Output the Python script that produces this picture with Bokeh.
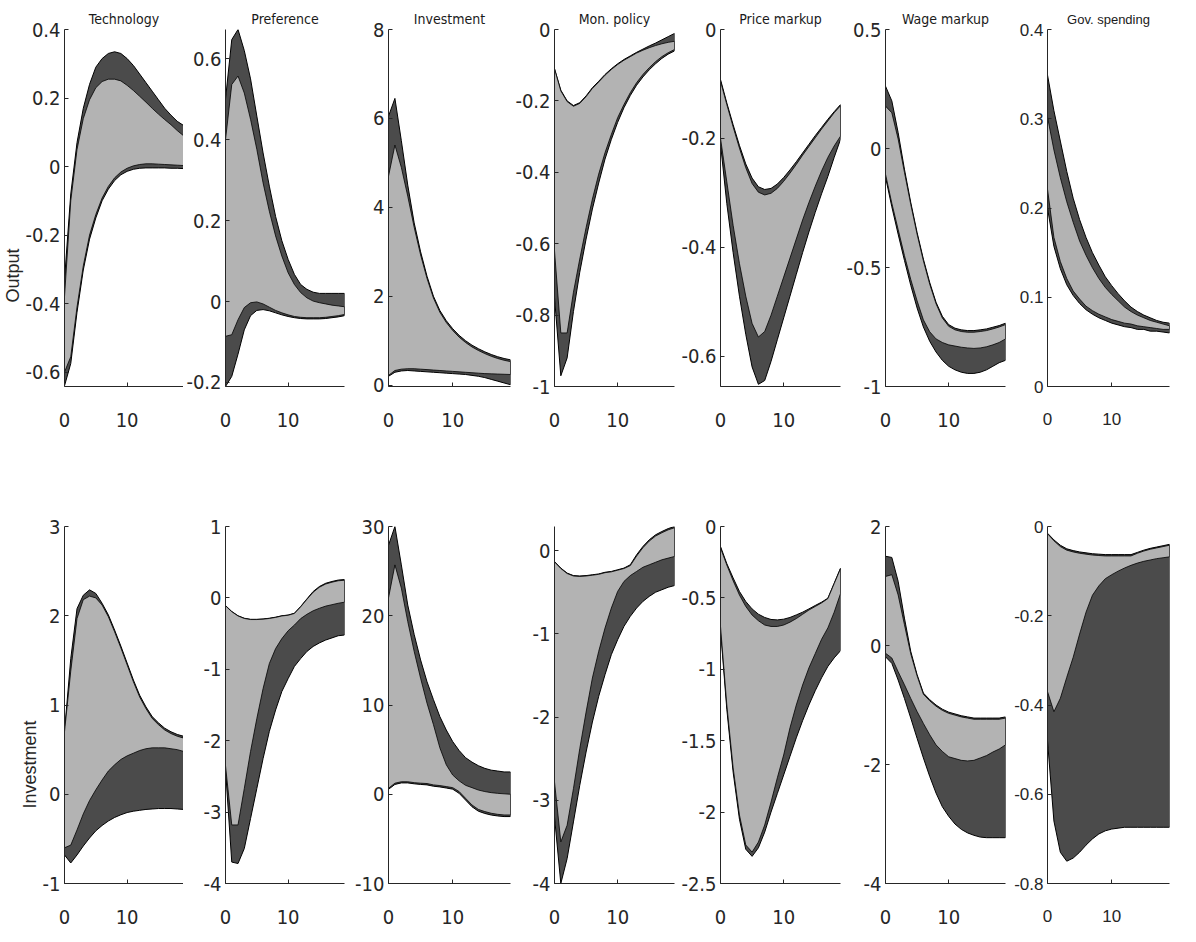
from bokeh.plotting import figure
from bokeh.layouts import gridplot
from bokeh.models import Range1d, FixedTicker, PrintfTickFormatter, Title
from bokeh.embed import file_html
from bokeh.resources import INLINE

# ---------------- data ----------------
x = list(range(20))

shocks = ["Technology", "Preference", "Investment", "Mon. policy",
          "Price markup", "Wage markup", "Gov. spending"]
variables = ["Output", "Investment"]

# Output responses
to_dark_hi = [-0.33, -0.08, 0.07, 0.17, 0.24, 0.29, 0.315, 0.33, 0.335, 0.33, 0.315, 0.295, 0.27, 0.245, 0.22, 0.195, 0.17, 0.15, 0.132, 0.12]
to_light_hi = [-0.38, -0.1, 0.05, 0.14, 0.195, 0.23, 0.248, 0.255, 0.255, 0.25, 0.237, 0.222, 0.205, 0.188, 0.17, 0.153, 0.137, 0.122, 0.105, 0.09]
to_light_lo = [-0.6, -0.555, -0.41, -0.29, -0.2, -0.14, -0.092, -0.058, -0.033, -0.016, -0.005, 0.002, 0.006, 0.008, 0.008, 0.007, 0.006, 0.005, 0.004, 0.003]
to_dark_lo = [-0.64, -0.575, -0.425, -0.302, -0.212, -0.15, -0.1, -0.066, -0.041, -0.024, -0.014, -0.008, -0.005, -0.004, -0.004, -0.004, -0.004, -0.005, -0.005, -0.006]

po_dark_hi = [0.5, 0.647, 0.672, 0.62, 0.55, 0.458, 0.367, 0.285, 0.21, 0.15, 0.104, 0.067, 0.042, 0.03, 0.023, 0.02, 0.02, 0.02, 0.02, 0.02]
po_light_hi = [0.4, 0.536, 0.557, 0.515, 0.45, 0.376, 0.293, 0.223, 0.162, 0.112, 0.071, 0.042, 0.022, 0.009, 0.001, -0.003, -0.006, -0.009, -0.011, -0.013]
po_light_lo = [-0.086, -0.082, -0.045, -0.015, -0.003, -0.001, -0.006, -0.014, -0.022, -0.028, -0.033, -0.037, -0.039, -0.04, -0.04, -0.04, -0.039, -0.037, -0.035, -0.032]
po_dark_lo = [-0.21, -0.185, -0.13, -0.07, -0.035, -0.022, -0.02, -0.023, -0.028, -0.033, -0.037, -0.04, -0.042, -0.043, -0.043, -0.043, -0.042, -0.04, -0.038, -0.035]

io_dark_hi = [6.05, 6.45, 5.5, 4.5, 3.65, 3.0, 2.45, 2.0, 1.68, 1.45, 1.27, 1.12, 1.0, 0.9, 0.82, 0.75, 0.69, 0.64, 0.6, 0.57]
io_light_hi = [4.7, 5.4, 4.9, 4.25, 3.55, 2.93, 2.4, 1.96, 1.64, 1.41, 1.23, 1.08, 0.96, 0.86, 0.78, 0.71, 0.65, 0.6, 0.56, 0.53]
io_light_lo = [0.22, 0.33, 0.36, 0.37, 0.37, 0.36, 0.35, 0.34, 0.33, 0.32, 0.31, 0.3, 0.29, 0.28, 0.27, 0.26, 0.255, 0.25, 0.245, 0.24]
io_dark_lo = [0.2, 0.29, 0.32, 0.33, 0.32, 0.31, 0.3, 0.29, 0.28, 0.27, 0.26, 0.25, 0.24, 0.22, 0.2, 0.17, 0.13, 0.09, 0.05, 0.01]

mo_dark_hi = [-0.11, -0.17, -0.2, -0.213, -0.205, -0.186, -0.163, -0.145, -0.126, -0.11, -0.096, -0.084, -0.074, -0.064, -0.055, -0.046, -0.038, -0.029, -0.02, -0.011]
mo_light_hi = [-0.11, -0.172, -0.202, -0.215, -0.207, -0.188, -0.165, -0.147, -0.128, -0.112, -0.098, -0.086, -0.076, -0.066, -0.058, -0.051, -0.045, -0.04, -0.036, -0.033]
mo_light_lo = [-0.62, -0.85, -0.85, -0.736, -0.643, -0.555, -0.475, -0.405, -0.345, -0.294, -0.247, -0.21, -0.177, -0.149, -0.126, -0.107, -0.09, -0.076, -0.065, -0.056]
mo_dark_lo = [-0.75, -0.97, -0.92, -0.79, -0.68, -0.587, -0.503, -0.43, -0.363, -0.308, -0.26, -0.219, -0.185, -0.156, -0.133, -0.113, -0.096, -0.081, -0.069, -0.06]

pmo_dark_hi = [-0.092, -0.135, -0.175, -0.213, -0.247, -0.273, -0.289, -0.294, -0.292, -0.284, -0.272, -0.258, -0.243, -0.227, -0.211, -0.195, -0.18, -0.165, -0.151, -0.138]
pmo_light_hi = [-0.095, -0.138, -0.179, -0.218, -0.254, -0.283, -0.299, -0.304, -0.301, -0.292, -0.279, -0.264, -0.248, -0.231, -0.215, -0.199, -0.183, -0.168, -0.153, -0.14]
pmo_light_lo = [-0.2, -0.28, -0.36, -0.43, -0.49, -0.54, -0.565, -0.555, -0.525, -0.49, -0.455, -0.42, -0.385, -0.35, -0.318, -0.288, -0.26, -0.235, -0.214, -0.196]
pmo_dark_lo = [-0.21, -0.32, -0.41, -0.49, -0.56, -0.62, -0.652, -0.645, -0.61, -0.57, -0.53, -0.49, -0.45, -0.41, -0.372, -0.336, -0.302, -0.27, -0.235, -0.202]

wo_dark_hi = [0.262, 0.2, 0.067, -0.087, -0.227, -0.353, -0.465, -0.563, -0.646, -0.705, -0.74, -0.755, -0.762, -0.765, -0.765, -0.762, -0.758, -0.751, -0.744, -0.734]
wo_light_hi = [0.178, 0.15, 0.04, -0.1, -0.235, -0.36, -0.472, -0.57, -0.652, -0.712, -0.747, -0.762, -0.769, -0.772, -0.772, -0.769, -0.765, -0.758, -0.75, -0.74]
wo_light_lo = [-0.108, -0.23, -0.34, -0.45, -0.55, -0.64, -0.72, -0.77, -0.8, -0.815, -0.825, -0.83, -0.835, -0.838, -0.84, -0.838, -0.833, -0.825, -0.815, -0.8]
wo_dark_lo = [-0.12, -0.245, -0.36, -0.47, -0.575, -0.67, -0.75, -0.81, -0.855, -0.89, -0.915, -0.93, -0.94, -0.945, -0.945, -0.94, -0.93, -0.915, -0.9, -0.89]

go_dark_hi = [0.349, 0.309, 0.275, 0.241, 0.211, 0.187, 0.167, 0.15, 0.136, 0.123, 0.113, 0.104, 0.096, 0.089, 0.084, 0.08, 0.077, 0.074, 0.072, 0.071]
go_light_hi = [0.302, 0.265, 0.234, 0.207, 0.184, 0.163, 0.147, 0.133, 0.121, 0.111, 0.103, 0.096, 0.089, 0.084, 0.08, 0.077, 0.074, 0.072, 0.07, 0.068]
go_light_lo = [0.221, 0.167, 0.14, 0.121, 0.107, 0.098, 0.09, 0.085, 0.081, 0.078, 0.075, 0.073, 0.071, 0.07, 0.068, 0.067, 0.066, 0.065, 0.064, 0.064]
go_dark_lo = [0.2, 0.157, 0.132, 0.114, 0.102, 0.093, 0.086, 0.081, 0.077, 0.074, 0.071, 0.069, 0.067, 0.066, 0.064, 0.064, 0.062, 0.062, 0.061, 0.06]

# Investment responses
ti_dark_hi = [0.7, 1.52, 2.08, 2.23, 2.29, 2.25, 2.14, 2.01, 1.84, 1.66, 1.47, 1.28, 1.11, 0.98, 0.87, 0.8, 0.74, 0.7, 0.67, 0.65]
ti_light_hi = [0.7, 1.38, 1.97, 2.18, 2.22, 2.2, 2.12, 1.99, 1.82, 1.64, 1.45, 1.26, 1.09, 0.96, 0.85, 0.78, 0.72, 0.68, 0.65, 0.63]
ti_light_lo = [-0.6, -0.57, -0.4, -0.22, -0.07, 0.05, 0.16, 0.26, 0.33, 0.39, 0.43, 0.46, 0.49, 0.51, 0.52, 0.52, 0.52, 0.51, 0.5, 0.48]
ti_dark_lo = [-0.68, -0.77, -0.68, -0.58, -0.49, -0.41, -0.35, -0.3, -0.26, -0.23, -0.205, -0.19, -0.18, -0.17, -0.165, -0.16, -0.16, -0.16, -0.165, -0.17]

pi_dark_hi = [-0.107, -0.19, -0.25, -0.285, -0.3, -0.3, -0.295, -0.285, -0.27, -0.25, -0.24, -0.215, -0.12, -0.014, 0.09, 0.16, 0.205, 0.23, 0.25, 0.257]
pi_light_hi = [-0.11, -0.193, -0.253, -0.288, -0.303, -0.303, -0.298, -0.288, -0.273, -0.253, -0.243, -0.218, -0.125, -0.02, 0.08, 0.15, 0.195, 0.22, 0.24, 0.247]
pi_light_lo = [-2.35, -3.18, -3.18, -2.67, -2.15, -1.69, -1.27, -0.92, -0.71, -0.57, -0.46, -0.38, -0.29, -0.23, -0.18, -0.145, -0.115, -0.095, -0.075, -0.06]
pi_dark_lo = [-2.4, -3.7, -3.72, -3.51, -3.09, -2.67, -2.25, -1.87, -1.57, -1.31, -1.13, -0.96, -0.85, -0.75, -0.68, -0.63, -0.59, -0.56, -0.53, -0.52]

ii_dark_hi = [27.9, 30.0, 25.7, 21.2, 17.9, 15.05, 12.6, 10.6, 8.7, 7.2, 5.9, 4.9, 4.1, 3.6, 3.2, 2.9, 2.7, 2.6, 2.5, 2.5]
ii_light_hi = [22.0, 25.7, 23.1, 19.35, 16.0, 13.0, 10.2, 7.8, 5.2, 3.3, 2.15, 1.5, 1.0, 0.74, 0.47, 0.3, 0.18, 0.1, 0.05, 0.0]
ii_light_lo = [0.67, 1.24, 1.4, 1.4, 1.3, 1.24, 1.2, 1.05, 0.97, 0.86, 0.74, 0.3, -0.45, -1.2, -1.7, -1.94, -2.13, -2.25, -2.32, -2.32]
ii_dark_lo = [0.55, 1.1, 1.27, 1.27, 1.17, 1.1, 1.05, 0.9, 0.82, 0.7, 0.57, 0.1, -0.65, -1.4, -1.9, -2.15, -2.33, -2.43, -2.5, -2.5]

mi_dark_hi = [-0.13, -0.21, -0.27, -0.3, -0.305, -0.3, -0.29, -0.28, -0.26, -0.25, -0.23, -0.21, -0.17, -0.05, 0.05, 0.13, 0.19, 0.23, 0.265, 0.29]
mi_light_hi = [-0.135, -0.215, -0.275, -0.305, -0.31, -0.305, -0.295, -0.285, -0.265, -0.255, -0.235, -0.215, -0.18, -0.065, 0.035, 0.115, 0.175, 0.215, 0.25, 0.275]
mi_light_lo = [-2.78, -3.5, -3.3, -2.86, -2.38, -1.94, -1.53, -1.21, -0.93, -0.69, -0.49, -0.37, -0.3, -0.25, -0.2, -0.17, -0.14, -0.11, -0.09, -0.07]
mi_dark_lo = [-3.2, -4.0, -3.7, -3.26, -2.82, -2.42, -2.06, -1.75, -1.49, -1.25, -1.07, -0.91, -0.79, -0.69, -0.61, -0.55, -0.5, -0.47, -0.44, -0.42]

pmi_dark_hi = [-0.14, -0.26, -0.36, -0.455, -0.525, -0.577, -0.614, -0.637, -0.651, -0.654, -0.649, -0.637, -0.619, -0.6, -0.577, -0.553, -0.53, -0.502, -0.397, -0.292]
pmi_light_hi = [-0.15, -0.27, -0.38, -0.48, -0.56, -0.62, -0.66, -0.69, -0.7, -0.7, -0.69, -0.67, -0.645, -0.615, -0.585, -0.56, -0.535, -0.505, -0.4, -0.295]
pmi_light_lo = [-0.7, -1.25, -1.69, -2.02, -2.23, -2.28, -2.21, -2.09, -1.93, -1.76, -1.6, -1.41, -1.25, -1.11, -0.99, -0.89, -0.79, -0.71, -0.6, -0.47]
pmi_dark_lo = [-0.72, -1.28, -1.72, -2.05, -2.26, -2.31, -2.25, -2.14, -2.0, -1.87, -1.74, -1.61, -1.48, -1.36, -1.25, -1.15, -1.06, -0.98, -0.92, -0.87]

wi_dark_hi = [1.5, 1.48, 1.08, 0.46, -0.1, -0.49, -0.8, -0.91, -1.0, -1.07, -1.12, -1.15, -1.18, -1.2, -1.22, -1.22, -1.22, -1.22, -1.22, -1.2]
wi_light_hi = [1.16, 1.19, 0.85, 0.35, -0.14, -0.51, -0.82, -0.93, -1.02, -1.09, -1.14, -1.17, -1.2, -1.22, -1.24, -1.24, -1.24, -1.24, -1.24, -1.22]
wi_light_lo = [-0.13, -0.21, -0.44, -0.66, -0.89, -1.11, -1.31, -1.5, -1.67, -1.78, -1.87, -1.9, -1.93, -1.94, -1.93, -1.89, -1.85, -1.79, -1.74, -1.67]
wi_dark_lo = [-0.19, -0.3, -0.58, -0.89, -1.22, -1.56, -1.89, -2.2, -2.48, -2.71, -2.87, -3.0, -3.09, -3.15, -3.19, -3.22, -3.23, -3.23, -3.23, -3.23]

gi_dark_hi = [-0.015, -0.03, -0.042, -0.05, -0.054, -0.057, -0.059, -0.061, -0.062, -0.063, -0.063, -0.063, -0.063, -0.063, -0.058, -0.053, -0.049, -0.046, -0.043, -0.04]
gi_light_hi = [-0.016, -0.032, -0.045, -0.053, -0.057, -0.06, -0.062, -0.064, -0.065, -0.066, -0.066, -0.066, -0.066, -0.066, -0.06, -0.055, -0.051, -0.048, -0.045, -0.042]
gi_light_lo = [-0.37, -0.415, -0.385, -0.338, -0.293, -0.241, -0.192, -0.154, -0.133, -0.117, -0.108, -0.1, -0.093, -0.087, -0.082, -0.078, -0.075, -0.072, -0.07, -0.068]
gi_dark_lo = [-0.48, -0.66, -0.73, -0.75, -0.743, -0.73, -0.714, -0.7, -0.689, -0.682, -0.678, -0.676, -0.674, -0.674, -0.674, -0.674, -0.674, -0.674, -0.674, -0.674]

out_ylims = [(-0.642, 0.4), (-0.21, 0.672), (-0.03, 8), (-1, 0), (-0.656, 0), (-1, 0.5), (0, 0.4)]
out_yticks = [[-0.6, -0.4, -0.2, 0, 0.2, 0.4], [-0.2, 0, 0.2, 0.4, 0.6], [0, 2, 4, 6, 8],
              [-1, -0.8, -0.6, -0.4, -0.2, 0], [-0.6, -0.4, -0.2, 0], [-1, -0.5, 0, 0.5],
              [0, 0.1, 0.2, 0.3, 0.4]]
inv_ylims = [(-1, 3), (-4, 1), (-10, 30), (-4, 0.29), (-2.5, 0), (-4, 2), (-0.8, 0)]
inv_yticks = [[-1, 0, 1, 2, 3], [-4, -3, -2, -1, 0, 1], [-10, 0, 10, 20, 30], [-4, -3, -2, -1, 0],
              [-2.5, -2, -1.5, -1, -0.5, 0], [-4, -2, 0, 2], [-0.8, -0.6, -0.4, -0.2, 0]]
x_ticks = [0, 10]

out_bands = [(to_dark_lo, to_dark_hi, to_light_lo, to_light_hi),
             (po_dark_lo, po_dark_hi, po_light_lo, po_light_hi),
             (io_dark_lo, io_dark_hi, io_light_lo, io_light_hi),
             (mo_dark_lo, mo_dark_hi, mo_light_lo, mo_light_hi),
             (pmo_dark_lo, pmo_dark_hi, pmo_light_lo, pmo_light_hi),
             (wo_dark_lo, wo_dark_hi, wo_light_lo, wo_light_hi),
             (go_dark_lo, go_dark_hi, go_light_lo, go_light_hi)]
inv_bands = [(ti_dark_lo, ti_dark_hi, ti_light_lo, ti_light_hi),
             (pi_dark_lo, pi_dark_hi, pi_light_lo, pi_light_hi),
             (ii_dark_lo, ii_dark_hi, ii_light_lo, ii_light_hi),
             (mi_dark_lo, mi_dark_hi, mi_light_lo, mi_light_hi),
             (pmi_dark_lo, pmi_dark_hi, pmi_light_lo, pmi_light_hi),
             (wi_dark_lo, wi_dark_hi, wi_light_lo, wi_light_hi),
             (gi_dark_lo, gi_dark_hi, gi_light_lo, gi_light_hi)]

# ---------------- styling / layout ----------------
DARK = "#4b4b4b"
LIGHT = "#b3b3b3"
AXC = "#262626"
COND = "DejaVu Sans Condensed"
REG = "Liberation Sans"
FRAME_W = 122
FRAME_H = 357
COL_W = [183, 165, 164, 166, 165, 164, 166]
COL_L = [61, 39, 40, 40, 40, 40, 40]
ROW_BORDERS = [(29, 70), (70, 49)]
ROW_LABEL_OFFSET = [84, 75]


def make_panel(col, row, bands, ylim, yticks):
    w = COL_W[col]
    l = COL_L[col]
    r = w - l - FRAME_W
    bt, bb = ROW_BORDERS[row]
    h = bt + FRAME_H + bb
    p = figure(width=w, height=h, min_border_left=l, min_border_right=r,
               min_border_top=bt, min_border_bottom=bb,
               x_range=Range1d(0, 19), y_range=Range1d(*ylim),
               output_backend="svg", toolbar_location=None,
               title=shocks[col] if row == 0 else None)
    if col == 6:
        font, tick_size, title_size = REG, "17px", "13px"
    else:
        font, tick_size, title_size = COND, "20px", "14px"
    if row == 0:
        p.title.align = "center"
        p.title.text_font = font
        p.title.text_font_style = "normal"
        p.title.text_font_size = title_size
        p.title.text_color = "#1a1a1a"
        p.title.standoff = 6
    lo_d, hi_d, lo_l, hi_l = bands
    xs = x + x[::-1]
    p.patch(xs, hi_d + lo_d[::-1], fill_color=DARK, line_color="black", line_width=1.0)
    p.patch(xs, hi_l + lo_l[::-1], fill_color=LIGHT, line_color="black", line_width=0.8)

    p.xaxis.ticker = FixedTicker(ticks=x_ticks)
    p.yaxis.ticker = FixedTicker(ticks=yticks)
    p.yaxis.formatter = PrintfTickFormatter(format="%g")
    for ax in (p.xaxis[0], p.yaxis[0]):
        ax.major_tick_in = 4
        ax.major_tick_out = 0
        ax.minor_tick_line_color = None
        ax.axis_line_color = AXC
        ax.major_tick_line_color = AXC
        ax.major_label_text_color = AXC
        ax.major_label_text_font = font
        ax.major_label_text_font_size = tick_size
    p.xaxis[0].major_label_standoff = 26
    p.yaxis[0].major_label_standoff = 4
    if col == 0:
        p.add_layout(Title(text=variables[row], align="left",
                           offset=ROW_LABEL_OFFSET[row], standoff=0,
                           text_font=REG, text_font_size="18px",
                           text_font_style="normal", text_color=AXC), "left")
    p.xgrid.visible = False
    p.ygrid.visible = False
    p.outline_line_color = None
    p.background_fill_color = "white"
    p.border_fill_color = "white"
    return p


top = [make_panel(c, 0, out_bands[c], out_ylims[c], out_yticks[c]) for c in range(7)]
bottom = [make_panel(c, 1, inv_bands[c], inv_ylims[c], inv_yticks[c]) for c in range(7)]

grid = gridplot([top, bottom], toolbar_location=None)

open("out.html", "w").write(file_html(grid, INLINE))
